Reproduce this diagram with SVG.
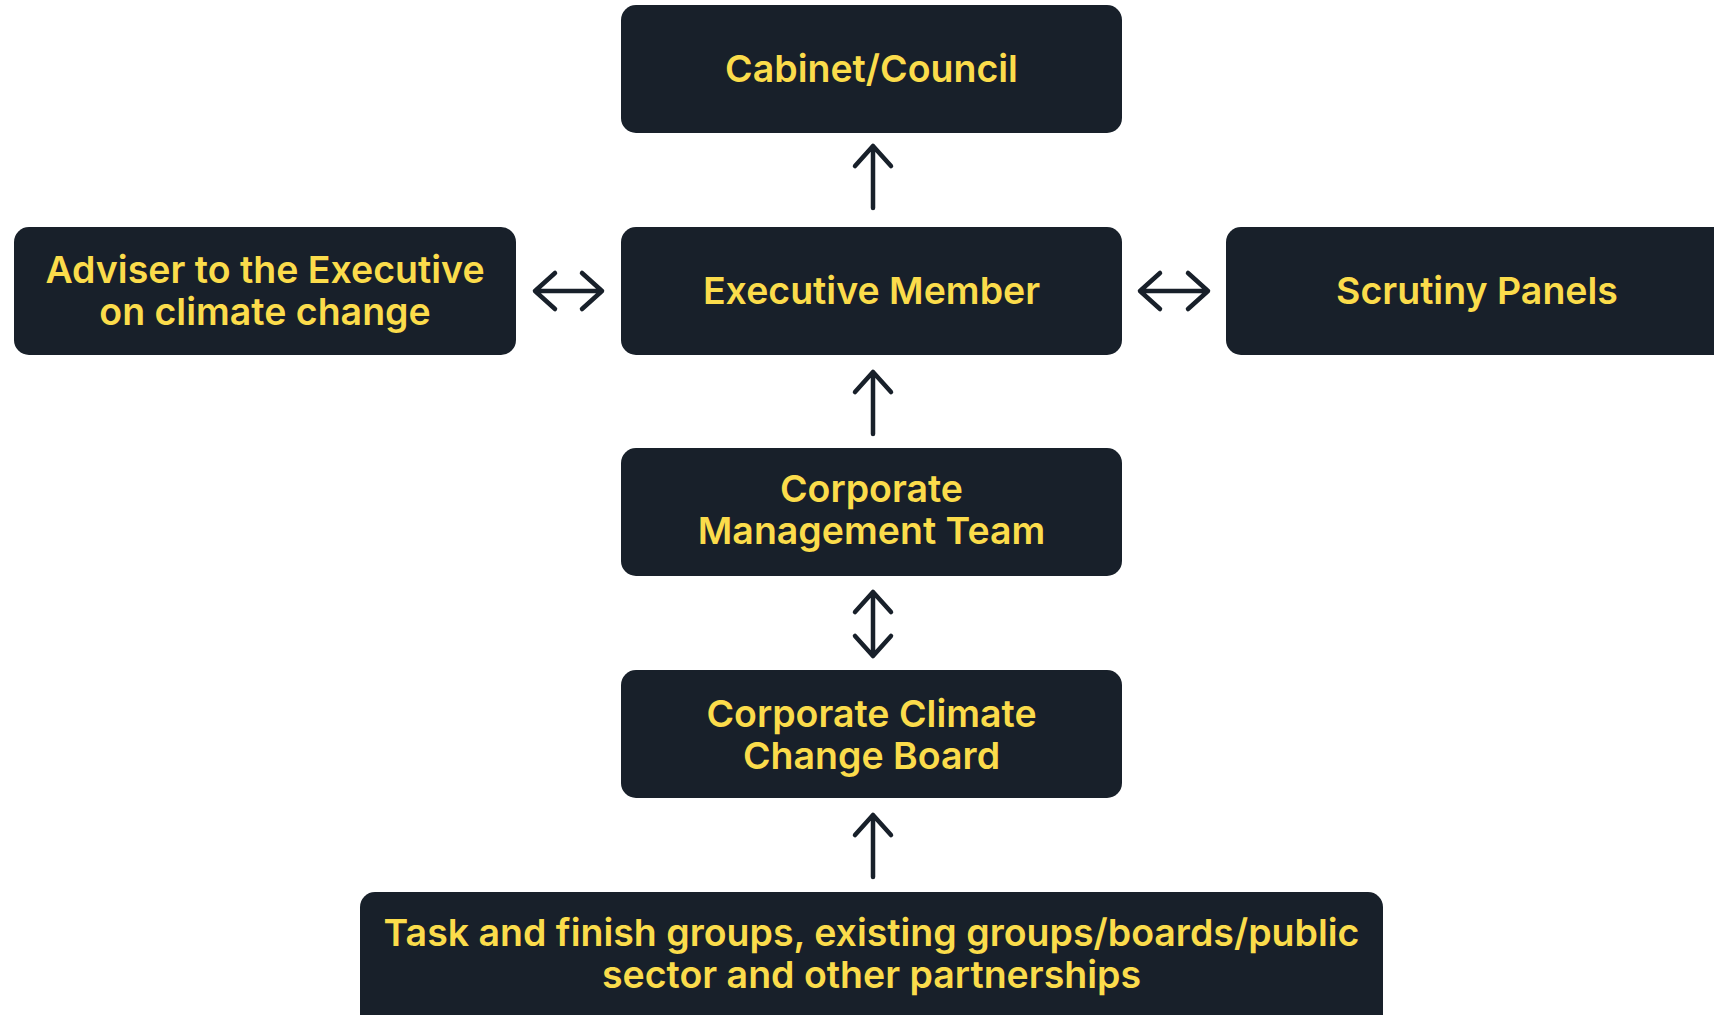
<svg xmlns="http://www.w3.org/2000/svg" width="1714" height="1015" viewBox="0 0 1714 1015">
<style>
.box{fill:#18202a;}
.t{fill:#fbdc4b;font-family:Inter,"Open Sans","Liberation Sans",sans-serif;font-weight:600;font-size:37.5px;text-anchor:middle;font-variant-ligatures:none;}
.c{fill:none;stroke:#18202a;stroke-width:4.5;stroke-linecap:round;stroke-linejoin:round;}
</style>
<rect width="1714" height="1015" fill="#ffffff"/>
<g id="connectors">
<path class="c" d="M873 208V146M855 166L873 146L891 166"/>
<path class="c" d="M873 434V372M855 392L873 372L891 392"/>
<path class="c" d="M873 656V592M855 612L873 592L891 612M855 636L873 656L891 636"/>
<path class="c" d="M873 877V815M855 835L873 815L891 835"/>
<path class="c" d="M535 291H602M555 273L535 291L555 309M582 273L602 291L582 309"/>
<path class="c" d="M1140 291H1208M1160 273L1140 291L1160 309M1188 273L1208 291L1188 309"/>
</g>
<g id="cabinet">
<rect class="box" x="621" y="5" width="501" height="128" rx="15"/>
<text class="t" x="871.5" y="82">Cabinet/Council</text>
</g>
<g id="executive">
<rect class="box" x="621" y="227" width="501" height="128" rx="15"/>
<text class="t" x="871.5" y="304">Executive Member</text>
</g>
<g id="adviser">
<rect class="box" x="14" y="227" width="502" height="128" rx="15"/>
<text class="t" x="265" y="283">Adviser to the Executive</text>
<text class="t" x="265" y="325">on climate change</text>
</g>
<g id="scrutiny">
<rect class="box" x="1226" y="227" width="510" height="128" rx="15"/>
<text class="t" x="1477" y="304">Scrutiny Panels</text>
</g>
<g id="cmt">
<rect class="box" x="621" y="448" width="501" height="128" rx="15"/>
<text class="t" x="871.5" y="502">Corporate</text>
<text class="t" x="871.5" y="544">Management Team</text>
</g>
<g id="cccb">
<rect class="box" x="621" y="670" width="501" height="128" rx="15"/>
<text class="t" x="871.5" y="727">Corporate Climate</text>
<text class="t" x="871.5" y="769">Change Board</text>
</g>
<g id="task">
<rect class="box" x="360" y="892" width="1023" height="140" rx="15"/>
<text class="t" x="871.5" y="946">Task and finish groups, existing groups/boards/public</text>
<text class="t" x="871.5" y="988">sector and other partnerships</text>
</g>
</svg>
